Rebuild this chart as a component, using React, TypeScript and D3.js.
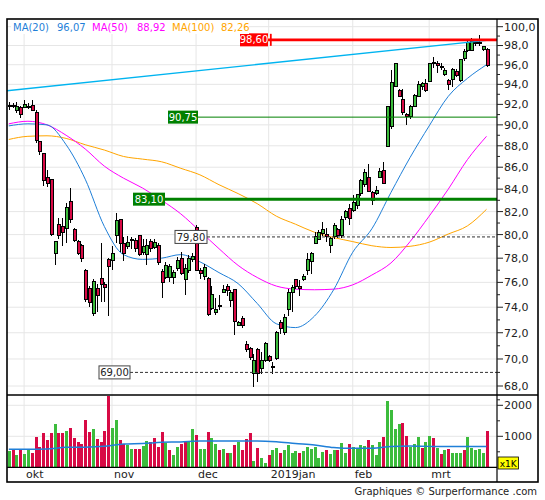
import * as d3 from "d3";

// daily sessions, 24 sep 2018 .. 22 mar 2019
const opens = [
  91.9, 91.9, 91.4, 91.7, 91.7, 91.8, 91.9, 91.2, 88.4, 87.3,
  85.1, 84.9, 78.4, 80.9, 80.7, 80.5, 82.9, 80.4, 79.4, 79.1,
  77.0, 75.5, 73.5, 75.5, 76.3, 75.8, 77.9, 77.8, 79.9, 81.3,
  79.2, 79.0, 79.5, 79.5, 79.9, 78.5, 78.3, 79.4, 78.9, 79.1,
  76.9, 76.4, 76.4, 76.4, 77.1, 78.0, 76.2, 77.0, 77.9, 80.6,
  77.0, 76.5, 76.3, 73.9, 73.6, 74.15, 75.2, 75.7, 74.5, 75.4,
  72.6, 73.1, 71.1, 70.8, 68.9, 70.7, 69.3, 69.9, 70.2, 69.4,
  70.0, 72.8, 72.0, 73.8, 75.2, 76.2, 75.7, 76.2, 77.0, 77.7,
  79.2, 79.6, 80.1, 80.0, 79.1, 79.8, 80.4, 79.9, 81.5, 82.3,
  82.1, 82.5, 83.6, 84.4, 85.1, 83.7, 83.6, 85.1, 85.7, 87.9,
  89.8, 93.8, 93.4, 92.5, 91.0, 90.8, 91.8, 92.8, 93.8, 94.1,
  94.3, 96.2, 96.1, 95.8, 95.0, 94.4, 94.5, 95.3, 94.4, 96.6,
  97.5, 97.5, 98.3, 98.3, 97.6, 97.6,
];
const highs = [
  92.2, 92.1, 92.2, 91.8, 92.4, 92.1, 92.4, 91.4, 88.5, 87.3,
  85.7, 84.9, 79.4, 81.4, 81.4, 82.8, 84.1, 80.6, 79.5, 79.2,
  77.1, 75.7, 76.3, 75.9, 79.3, 76.0, 78.0, 79.0, 81.9, 81.3,
  79.8, 79.9, 79.8, 79.7, 80.0, 79.6, 79.6, 79.6, 79.6, 79.3,
  77.1, 77.7, 77.5, 77.0, 78.1, 78.5, 77.5, 78.3, 78.4, 80.8,
  77.2, 77.5, 76.4, 75.7, 74.7, 75.0, 75.8, 75.9, 75.4, 75.5,
  72.9, 73.3, 71.4, 70.9, 70.4, 70.8, 70.5, 71.3, 70.3, 69.8,
  72.1, 73.0, 73.5, 75.5, 75.8, 76.2, 76.2, 76.7, 78.4, 78.5,
  80.2, 80.4, 81.1, 80.6, 79.8, 81.0, 80.6, 81.6, 82.1, 82.7,
  83.5, 83.6, 84.9, 85.8, 86.3, 83.8, 84.3, 85.9, 86.5, 91.8,
  95.5, 96.1, 93.5, 93.5, 91.2, 91.9, 93.0, 94.3, 94.2, 94.5,
  96.2, 96.8, 96.4, 96.2, 95.7, 94.5, 95.7, 95.6, 96.6, 97.6,
  98.7, 98.8, 98.6, 99.1, 98.0, 97.7,
];
const lows = [
  91.4, 91.6, 91.2, 90.7, 91.6, 91.5, 91.4, 88.3, 87.1, 84.3,
  84.2, 79.9, 77.4, 79.6, 79.0, 79.3, 81.0, 79.4, 78.3, 77.7,
  74.4, 74.0, 73.3, 73.6, 74.4, 74.4, 73.3, 77.0, 79.3, 78.5,
  77.8, 78.8, 78.8, 78.5, 78.2, 78.3, 77.4, 78.5, 78.8, 77.4,
  74.7, 76.3, 76.0, 75.9, 76.9, 76.6, 75.0, 76.8, 77.7, 76.9,
  76.3, 76.2, 73.3, 73.8, 73.4, 73.8, 75.1, 74.9, 74.0, 71.8,
  72.5, 72.4, 70.5, 69.9, 67.9, 68.3, 68.9, 69.8, 69.8, 68.9,
  69.9, 71.9, 71.8, 73.3, 73.6, 75.5, 74.9, 76.1, 76.6, 76.7,
  79.2, 79.5, 79.9, 79.4, 78.4, 79.6, 79.7, 79.7, 81.3, 80.8,
  82.0, 82.2, 83.4, 84.2, 83.7, 82.6, 83.5, 85.0, 84.5, 87.9,
  89.6, 93.8, 92.7, 91.0, 90.0, 90.6, 91.7, 92.7, 93.4, 93.2,
  94.2, 95.7, 95.2, 95.5, 94.8, 93.4, 93.7, 94.7, 94.2, 96.4,
  97.3, 97.4, 97.9, 97.9, 97.4, 95.8,
];
const closes = [
  91.9, 91.85, 91.8, 91.0, 92.0, 91.75, 91.4, 88.5, 87.5, 84.8,
  84.5, 80.0, 79.4, 79.9, 80.2, 82.4, 81.3, 79.5, 78.4, 78.0,
  74.6, 74.4, 76.1, 74.9, 75.8, 75.6, 77.3, 78.4, 81.2, 79.2,
  78.4, 79.3, 79.55, 78.8, 78.3, 79.0, 79.1, 78.8, 79.3, 77.6,
  76.0, 77.4, 77.3, 76.8, 77.8, 76.7, 77.1, 78.0, 78.1, 77.0,
  76.7, 77.2, 73.4, 75.0, 73.8, 74.1, 75.4, 75.3, 75.2, 72.9,
  72.8, 72.6, 70.7, 70.1, 69.9, 68.9, 69.9, 71.2, 69.9, 69.45,
  72.0, 72.3, 73.2, 75.2, 75.6, 75.7, 75.5, 76.5, 77.9, 78.4,
  79.8, 80.2, 80.4, 79.8, 79.7, 80.8, 79.9, 81.3, 82.0, 81.4,
  82.8, 83.5, 84.8, 85.5, 83.8, 83.0, 83.9, 85.6, 84.5, 91.8,
  94.2, 96.1, 92.8, 91.2, 90.8, 91.8, 92.9, 94.0, 94.1, 93.4,
  96.1, 96.25, 95.9, 95.85, 95.4, 94.0, 95.5, 94.9, 96.5, 97.4,
  98.3, 98.4, 98.3, 98.35, 97.9, 95.9,
];
const volumes = [
  527, 580, 398, 580, 430, 580, 473, 989, 667, 1118,
  882, 1118, 1398, 1097, 1097, 1183, 1258, 935, 828, 753,
  1527, 1150, 1236, 914, 828, 1183, 2311, 1279, 1527, 882,
  753, 720, 591, 591, 591, 699, 849, 828, 957, 667,
  1150, 795, 559, 398, 667, 742, 828, 806, 1236, 1043,
  591, 591, 1150, 957, 742, 559, 591, 473, 452, 720,
  828, 559, 903, 1118, 215, 634, 290, 150, 398, 559,
  634, 452, 559, 720, 452, 538, 452, 527, 667, 580,
  645, 290, 505, 559, 430, 559, 559, 795, 452, 753,
  645, 613, 720, 688, 882, 720, 398, 828, 989, 2139,
  1849, 1236, 1387, 1440, 1010, 667, 753, 989, 613, 828,
  1010, 935, 613, 430, 559, 591, 473, 452, 473, 559,
  989, 634, 559, 591, 452, 1183,
];
// u = green bar, d = red bar
const volumeDir = [
  "ududuudddd", "dduddudddd", "ddudddduud", "duudduuddd", "duduudduud",
  "uuduududud", "uddduduudu", "uduuuuduuu", "uuuduuduud", "uuuuduuudu",
  "uuudduuudu", "udududuuud", "uuuuud",
].join("");

// moving averages, one value every 5 sessions
const maStep = 5;
const ma20 = [89.9, 90.1, 90.0, 88.1, 84.9, 80.7, 78.3, 77.9, 78.0, 78.3, 77.7, 76.8, 75.9, 74.3, 72.7, 72.4, 73.3, 75.4, 78.5, 80.5, 83.7, 86.9, 89.9, 92.8, 94.6, 96.0];
const ma50 = [90.1, 90.35, 90.0, 89.0, 87.7, 86.1, 85.0, 84.1, 83.0, 81.8, 80.3, 78.8, 77.4, 76.4, 75.7, 75.45, 75.4, 75.45, 75.8, 76.6, 77.6, 79.4, 81.6, 84.0, 86.7, 88.9];
const ma100 = [88.6, 88.9, 88.95, 88.7, 88.1, 87.6, 87.0, 86.75, 86.5, 85.9, 85.3, 84.4, 83.6, 82.7, 81.6, 80.9, 80.2, 79.75, 79.4, 79.05, 78.9, 79.0, 79.35, 80.05, 80.75, 82.2];
const volMa = [580, 580, 590, 645, 650, 680, 753, 770, 806, 820, 849, 849, 849, 850, 825, 770, 720, 640, 613, 613, 670, 688, 675, 667, 667, 667];

const legendNames = ["MA(20)", "MA(50)", "MA(100)"];
const legendValues = [96.07, 88.92, 82.26];

const monthTicks = [4, 27, 49, 68, 90, 110];
const monthLabels = ["okt", "nov", "dec", "2019jan", "feb", "mrt"];
const priceTicks = [68, 70, 72, 74, 76, 78, 80, 82, 84, 86, 88, 90, 92, 94, 96, 98, 100];
const volTicks = [1000, 2000];

const levelValues = [98.6, 90.75, 83.1, 79.8, 69.0];
const trendIdx = [-0.5, 127.5];
const trendVal = [93.35, 98.65];

const GREEN = "#3cbc3c";
const RED = "#d80a45";
const fmt = (v: number, d: number) => v.toFixed(d).replace(".", ",");

export default function App() {
  const L = 7, R = 497, OR = 538, T = 19, MB = 395, VB = 467.3, B = 482;
  const x = d3.scaleLinear().domain([0, 125]).range([8.8, 486.5]);
  const y = d3.scaleLog().domain([68, 100]).range([386, 26.7]);
  const yv = d3.scaleLinear().domain([0, 2000]).range([VB, 405.3]);

  const maLine = d3
    .line<number>()
    .x((_, i) => x(i * maStep))
    .y((d) => y(d))
    .curve(d3.curveMonotoneX);
  const volLine = d3
    .line<number>()
    .x((_, i) => x(i * maStep))
    .y((d) => yv(d))
    .curve(d3.curveMonotoneX);

  const minorTicks = d3.range(67, 101, 1).filter((v) => v % 2 === 1);

  // label layout for the level lines
  const levelStyle = [
    { bx: 240, bw: 28, fill: "#ff0000", text: "#fff", line: "#ff0000", sw: 2.6, dash: "" },
    { bx: 168, bw: 30, fill: "#008000", text: "#fff", line: "#008000", sw: 1, dash: "" },
    { bx: 133, bw: 32, fill: "#008000", text: "#fff", line: "#008000", sw: 3, dash: "" },
    { bx: 175, bw: 32, fill: "#fff", text: "#222", line: "#333", sw: 1, dash: "3,2" },
    { bx: 99, bw: 31, fill: "#fff", text: "#222", line: "#333", sw: 1, dash: "3,2" },
  ];
  const legendX = [13, 57, 92, 137, 172, 221];
  const legendColors = ["#1f7fd8", "#ff00ff", "#ffa500"];

  return (
    <svg
      width={545}
      height={500}
      style={{ position: "absolute", left: 0, top: 0 }}
      fontFamily="DejaVu Sans, Verdana, sans-serif"
    >
      <defs>
        <clipPath id="mainClip">
          <rect x={L} y={T} width={R - L} height={MB - T} />
        </clipPath>
        <clipPath id="volClip">
          <rect x={L} y={MB} width={R - L} height={VB - MB} />
        </clipPath>
      </defs>
      <rect width={545} height={500} fill="#fff" />

      {/* grid */}
      <g stroke="#e6e6e6" strokeWidth={1}>
        {priceTicks.map((v) => (
          <line key={v} x1={L} x2={R} y1={y(v)} y2={y(v)} />
        ))}
        {volTicks.map((v) => (
          <line key={v} x1={L} x2={R} y1={yv(v)} y2={yv(v)} />
        ))}
        {monthTicks.map((m) => (
          <line key={m} x1={x(m)} x2={x(m)} y1={T} y2={VB} />
        ))}
      </g>

      {/* price panel */}
      <g clipPath="url(#mainClip)">
        <path d={maLine(ma100) ?? ""} fill="none" stroke="#ffa500" strokeWidth={1} />
        <path d={maLine(ma50) ?? ""} fill="none" stroke="#ff00ff" strokeWidth={1} />
        <path d={maLine(ma20) ?? ""} fill="none" stroke="#1f7fd8" strokeWidth={1} />

        <g shapeRendering="crispEdges">
          {closes.map((c, i) => {
            const o = opens[i];
            const cx = Math.round(x(i));
            const top = y(Math.max(o, c));
            const h = Math.max(1, Math.abs(y(o) - y(c)));
            return (
              <g key={i}>
                <line x1={cx + 0.5} x2={cx + 0.5} y1={y(highs[i])} y2={y(lows[i])} stroke="#000" />
                <rect
                  x={cx - 1}
                  y={top}
                  width={3}
                  height={h}
                  fill={c >= o ? GREEN : RED}
                  stroke="#000"
                  strokeWidth={1}
                />
              </g>
            );
          })}
        </g>

        <line
          x1={x(trendIdx[0])}
          x2={x(trendIdx[1])}
          y1={y(trendVal[0])}
          y2={y(trendVal[1])}
          stroke="#00b4f0"
          strokeWidth={1.4}
        />

        {levelValues.map((v, k) => {
          const s = levelStyle[k];
          return (
            <line
              key={v}
              x1={s.bx + s.bw}
              x2={R}
              y1={y(v)}
              y2={y(v)}
              stroke={s.line}
              strokeWidth={s.sw}
              strokeDasharray={s.dash || undefined}
            />
          );
        })}
        <line x1={270.8} x2={270.8} y1={y(levelValues[0]) - 6} y2={y(levelValues[0]) + 6} stroke="#ff0000" strokeWidth={1.8} />

        {levelValues.map((v, k) => {
          const s = levelStyle[k];
          const cy = y(v);
          return (
            <g key={v}>
              <rect
                x={s.bx}
                y={cy - 6.5}
                width={s.bw}
                height={13}
                fill={s.fill}
                stroke={s.fill === "#fff" ? "#444" : "none"}
                strokeWidth={1}
              />
              <text x={s.bx + s.bw / 2} y={cy} dy="0.36em" textAnchor="middle" fontSize={10} fill={s.text}>
                {fmt(v, 2)}
              </text>
            </g>
          );
        })}
      </g>

      {/* legend */}
      <rect x={11} y={21} width={238} height={13} fill="#fff" />
      {legendNames.map((n, k) => (
        <g key={n} fontSize={10} fill={legendColors[k]}>
          <text x={legendX[k * 2]} y={31}>{n}</text>
          <text x={legendX[k * 2 + 1]} y={31}>{fmt(legendValues[k], 2)}</text>
        </g>
      ))}

      {/* volume panel */}
      <g clipPath="url(#volClip)">
        <g shapeRendering="crispEdges">
          {volumes.map((v, i) => (
            <rect
              key={i}
              x={Math.round(x(i)) - 0.8}
              y={yv(v)}
              width={2.6}
              height={VB - yv(v)}
              fill={volumeDir[i] === "u" ? GREEN : RED}
            />
          ))}
        </g>
        <path d={volLine(volMa) ?? ""} fill="none" stroke="#1f7fd8" strokeWidth={1.5} />
      </g>

      {/* frame */}
      <g stroke="#000" fill="none">
        <rect x={L} y={T} width={OR - L} height={B - T} strokeWidth={1.6} />
        <line x1={R} x2={R} y1={T} y2={B} strokeWidth={1.2} />
        <line x1={L} x2={OR} y1={MB} y2={MB} strokeWidth={1.6} />
        <line x1={L} x2={R} y1={VB} y2={VB} strokeWidth={1.2} />
      </g>

      {/* price axis */}
      <g stroke="#222" strokeWidth={1}>
        {priceTicks.map((v) => (
          <line key={v} x1={R} x2={R + 6} y1={y(v)} y2={y(v)} />
        ))}
        {minorTicks.map((v) => (
          <line key={v} x1={R} x2={R + 3} y1={y(v)} y2={y(v)} />
        ))}
        {volTicks.map((v) => (
          <line key={v} x1={R} x2={R + 6} y1={yv(v)} y2={yv(v)} />
        ))}
        {[500, 1500].map((v) => (
          <line key={v} x1={R} x2={R + 3} y1={yv(v)} y2={yv(v)} />
        ))}
      </g>
      <g fontSize={11} fill="#222">
        {priceTicks.map((v) => (
          <text key={v} x={R + 7} y={y(v)} dy="0.36em">
            {fmt(v, 1)}
          </text>
        ))}
        {volTicks.map((v) => (
          <text key={v} x={R + 7} y={yv(v)} dy="0.36em">
            {v}
          </text>
        ))}
        {monthTicks.map((m, k) => (
          <text key={m} x={x(m) + 2} y={478}>
            {monthLabels[k]}
          </text>
        ))}
      </g>

      <rect x={498} y={457} width={20.5} height={12} fill="#ffff00" stroke="#000" strokeWidth={0.8} />
      <text x={508.2} y={466.5} textAnchor="middle" fontSize={9} fill="#000">
        x1K
      </text>

      <text x={537} y={495} textAnchor="end" fontSize={10} fill="#222">
        Graphiques © Surperformance .com
      </text>
    </svg>
  );
}
